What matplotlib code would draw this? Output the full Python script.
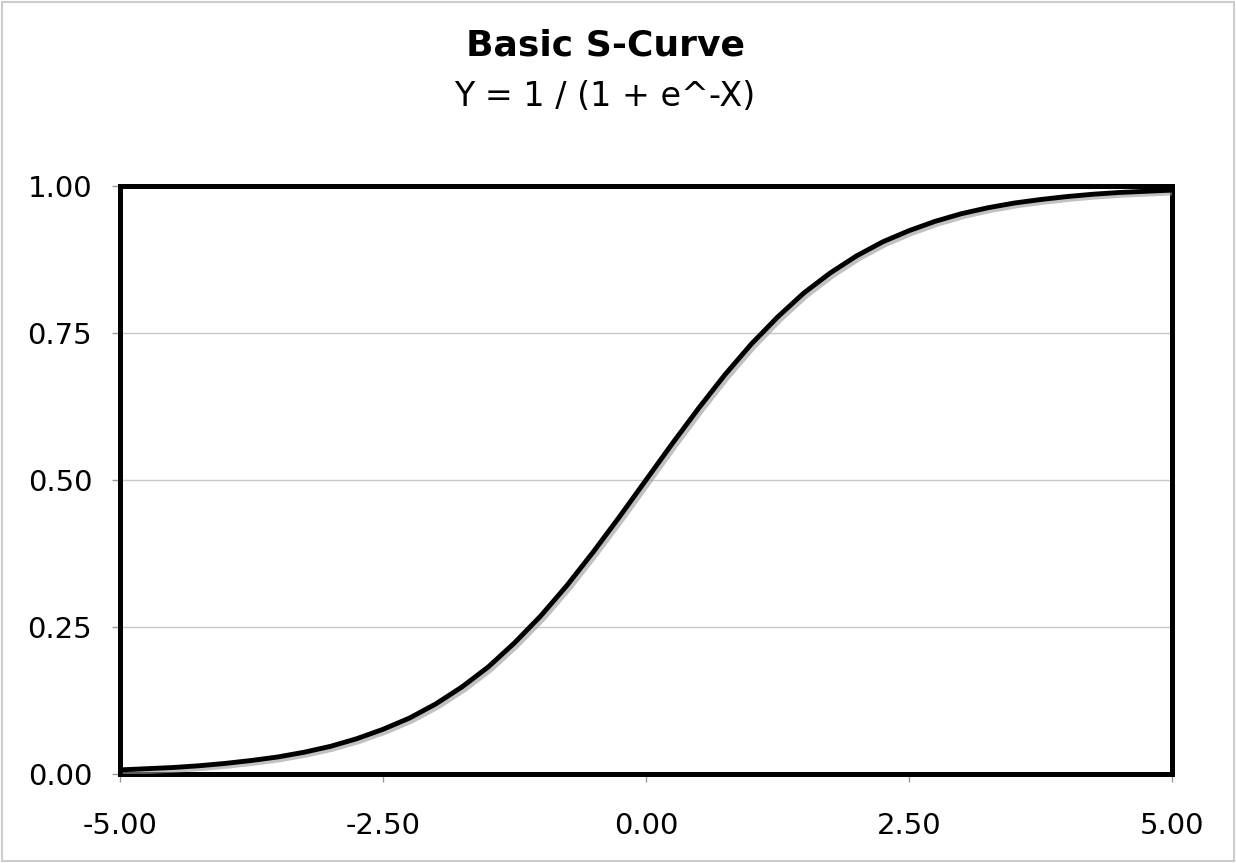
import numpy as np
import matplotlib
matplotlib.use("Agg")
from matplotlib import pyplot as plt
from matplotlib import patheffects as pe
from matplotlib.patches import Rectangle

## data (points every 0.25)
x_vals = [-5.00, -4.75, -4.50, -4.25, -4.00, -3.75, -3.50, -3.25, -3.00, -2.75,
          -2.50, -2.25, -2.00, -1.75, -1.50, -1.25, -1.00, -0.75, -0.50, -0.25,
          0.00, 0.25, 0.50, 0.75, 1.00, 1.25, 1.50, 1.75, 2.00, 2.25,
          2.50, 2.75, 3.00, 3.25, 3.50, 3.75, 4.00, 4.25, 4.50, 4.75, 5.00]
y_vals = [0.007, 0.009, 0.011, 0.014, 0.018, 0.023, 0.029, 0.037, 0.047, 0.060,
          0.076, 0.095, 0.119, 0.148, 0.182, 0.223, 0.269, 0.321, 0.378, 0.438,
          0.500, 0.562, 0.622, 0.679, 0.731, 0.777, 0.818, 0.852, 0.881, 0.905,
          0.924, 0.940, 0.953, 0.963, 0.971, 0.977, 0.982, 0.986, 0.989, 0.991, 0.993]
x_ticks = [-5.0, -2.5, 0.0, 2.5, 5.0]
y_ticks = [0.0, 0.25, 0.5, 0.75, 1.0]

title = "Basic S-Curve"
subtitle = "Y = 1 / (1 + e^-X)"

plt.rcParams['font.family'] = ['DejaVu Sans']

fig = plt.figure(figsize=(12.36, 8.63), dpi=100)
fig.patches.append(Rectangle((0.002, 0.002), 0.996, 0.996, transform=fig.transFigure,
                             fill=False, edgecolor='#cccccc', linewidth=1.5))

ax = fig.add_axes([120/1236, 1-774/863, (1172-120)/1236, (774-186)/863])

ax.plot(x_vals, y_vals, color='black', linewidth=3.5, solid_capstyle='butt',
        path_effects=[pe.SimpleLineShadow(offset=(2, -2), shadow_color='#999999', alpha=0.6),
                      pe.Normal()], zorder=3)

ax.set_xlim(-5, 5)
ax.set_ylim(0, 1)
ax.set_xticks(x_ticks)
ax.set_yticks(y_ticks)
ax.set_xticklabels([f"{v:.2f}" for v in x_ticks])
ax.set_yticklabels([f"{v:.2f}" for v in y_ticks])
ax.tick_params(axis='both', labelsize=21, color='#999999', length=6, width=1)
ax.tick_params(axis='y', pad=14)
ax.tick_params(axis='x', pad=21)
ax.grid(axis='y', color='#c8c8c8', linewidth=1)
ax.set_axisbelow(True)
for s in ax.spines.values():
    s.set_linewidth(3.6)
    s.set_color('black')

fig.text(605/1236, 1-45/863, title, ha='center', va='center', fontsize=26, fontweight='bold')
fig.text(605/1236, 1-96/863, subtitle, ha='center', va='center', fontsize=24)

fig.savefig("out.png", dpi=100)
